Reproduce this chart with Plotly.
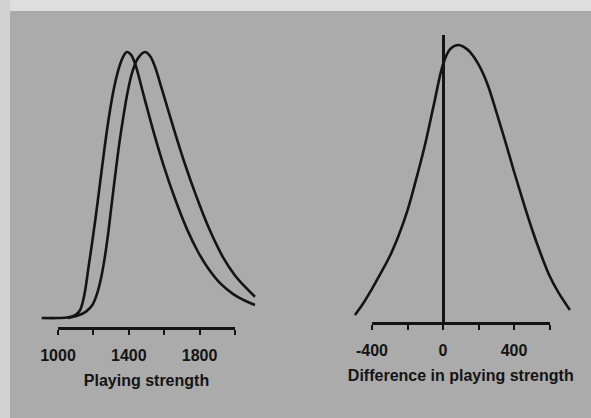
import plotly.graph_objects as go

W, H = 591, 418

# ---- data (density in arbitrary units, peak = 1) ----
# Left panel: two playing-strength distributions
strength_a_x = [908, 1000, 1060, 1100, 1125, 1140, 1155, 1170, 1190, 1215, 1240, 1265, 1290, 1315, 1340, 1365,
                1389, 1412, 1436, 1483, 1540, 1596, 1660, 1728, 1790, 1850, 1920, 1990, 2060, 2113]
strength_a_y = [0.0, 0.0, 0.003, 0.012, 0.03, 0.06, 0.11, 0.18, 0.27, 0.39, 0.52, 0.65, 0.765, 0.86, 0.93, 0.978,
                1.0, 0.99, 0.955, 0.84, 0.70, 0.575, 0.45, 0.335, 0.25, 0.185, 0.128, 0.09, 0.064, 0.049]

strength_b_x = [1056, 1115, 1160, 1195, 1220, 1240, 1260, 1280, 1300, 1322, 1345, 1370, 1395, 1420, 1450, 1492,
                1520, 1545, 1587, 1650, 1709, 1780, 1851, 1935, 2000, 2060, 2113]
strength_b_y = [0.0, 0.01, 0.025, 0.05, 0.09, 0.14, 0.21, 0.30, 0.41, 0.53, 0.65, 0.76, 0.855, 0.925, 0.975, 1.0,
                0.985, 0.95, 0.86, 0.72, 0.595, 0.46, 0.34, 0.225, 0.16, 0.115, 0.08]

# Right panel: distribution of the difference in playing strength
diff_x = [-496, -450, -400, -350, -300, -250, -200, -150, -100, -50, 0, 40, 85, 125, 152, 200, 250, 300, 350,
          400, 450, 500, 550, 600, 650, 715]
diff_y = [0.029, 0.07, 0.123, 0.18, 0.24, 0.315, 0.405, 0.52, 0.645, 0.79, 0.93, 0.985, 1.0, 0.99, 0.975, 0.93,
          0.86, 0.76, 0.655, 0.545, 0.44, 0.34, 0.25, 0.17, 0.11, 0.047]

left_tickvals = [1000, 1200, 1400, 1600, 1800, 2000]
left_ticktext = ["1000", "", "1400", "", "1800", ""]
right_tickvals = [-400, -200, 0, 200, 400, 600]
right_ticktext = ["-400", "", "0", "", "400", ""]

left_title = "Playing strength"
right_title = "Difference in playing strength"

INK = "#141414"
BG = "#ababab"
FONT = dict(family="Liberation Sans, Arial, sans-serif", size=16, color=INK, weight="bold")


def fx(px):
    return px / W


def fy(py):
    return 1 - py / H


fig = go.Figure()
line = dict(color=INK, width=2.6, shape="spline", smoothing=1.0)

fig.add_trace(go.Scatter(x=strength_a_x, y=strength_a_y, mode="lines", line=line,
                         xaxis="x", yaxis="y", hoverinfo="skip", showlegend=False))
fig.add_trace(go.Scatter(x=strength_b_x, y=strength_b_y, mode="lines", line=line,
                         xaxis="x", yaxis="y", hoverinfo="skip", showlegend=False))
fig.add_trace(go.Scatter(x=diff_x, y=diff_y, mode="lines", line=line,
                         xaxis="x2", yaxis="y2", hoverinfo="skip", showlegend=False))
# empty traces so the visible (shorter) axes get drawn
fig.add_trace(go.Scatter(x=[None], y=[None], xaxis="x3", yaxis="y", showlegend=False, hoverinfo="skip"))
fig.add_trace(go.Scatter(x=[None], y=[None], xaxis="x4", yaxis="y2", showlegend=False, hoverinfo="skip"))

hidden = dict(visible=False, showgrid=False, zeroline=False, fixedrange=True)

# left panel scale: 1000 -> px 58, 2000 -> px 235
lpx0, lpx1 = 58, 235
lscale = (lpx1 - lpx0) / 1000.0
lx_dom = (30, 265)
lx_range = [1000 + (lx_dom[0] - lpx0) / lscale, 1000 + (lx_dom[1] - lpx0) / lscale]
l_axis_py, l_base_py, l_peak_py, l_top_py = 328, 318, 52, 40
lunit = l_base_py - l_peak_py
ly_range = [(l_base_py - l_axis_py) / lunit, (l_base_py - l_top_py) / lunit]

# right panel scale: 0 -> px 443
rzero = 443
rscale = 0.1775
rx_dom = (335, 590)
rx_range = [(rx_dom[0] - rzero) / rscale, (rx_dom[1] - rzero) / rscale]
r_axis_py, r_peak_py, r_top_py = 323, 45, 35
runit = r_axis_py - r_peak_py
ry_range = [0, (r_axis_py - r_top_py) / runit]

vis_axis = dict(showgrid=False, zeroline=False, showline=True, linecolor=INK, linewidth=2.6,
                ticks="outside", ticklen=5, tickwidth=2, tickcolor=INK, tickfont=FONT,
                ticklabelstandoff=7, automargin=False, fixedrange=True, anchor="free")

fig.update_layout(
    width=W, height=H,
    margin=dict(l=0, r=0, t=0, b=0),
    paper_bgcolor=BG, plot_bgcolor="rgba(0,0,0,0)",
    showlegend=False,
    xaxis=dict(domain=[fx(lx_dom[0]), fx(lx_dom[1])], range=lx_range, anchor="y", **hidden),
    yaxis=dict(domain=[fy(l_axis_py), fy(l_top_py)], range=ly_range, anchor="x", **hidden),
    xaxis2=dict(domain=[fx(rx_dom[0]), fx(rx_dom[1])], range=rx_range, anchor="y2", **hidden),
    yaxis2=dict(domain=[fy(r_axis_py), fy(r_top_py)], range=ry_range, anchor="free",
                position=fx(rzero), showline=True, linecolor=INK, linewidth=2.6,
                showticklabels=False, ticks="", showgrid=False, zeroline=False, fixedrange=True),
    xaxis3=dict(domain=[fx(lpx0), fx(lpx1)], range=[1000, 2000], position=fy(l_axis_py),
                tickvals=left_tickvals, ticktext=left_ticktext,
                title=dict(text=left_title, font=FONT, standoff=11), **vis_axis),
    xaxis4=dict(domain=[fx(rzero + (-400) * rscale), fx(rzero + 600 * rscale)], range=[-400, 600],
                position=fy(r_axis_py), tickvals=right_tickvals, ticktext=right_ticktext,
                title=dict(text=right_title, font=FONT, standoff=11), **vis_axis),
    shapes=[
        dict(type="rect", xref="paper", yref="paper", x0=0, x1=1, y0=fy(11), y1=1,
             fillcolor="#dedede", line=dict(width=0), layer="below"),
        dict(type="rect", xref="paper", yref="paper", x0=0, x1=fx(10), y0=0, y1=1,
             fillcolor="#d2d2d2", line=dict(width=0), layer="below"),
    ],
)

fig.write_html("out.html")
